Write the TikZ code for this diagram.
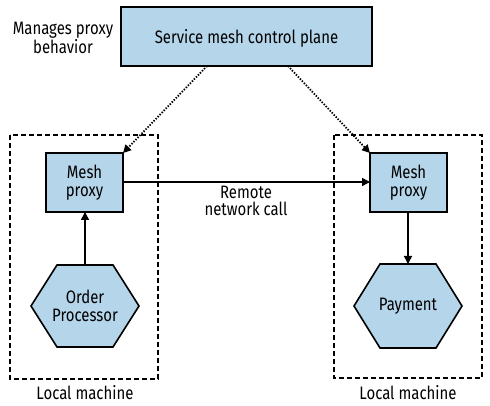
\documentclass[tikz,border=0pt]{standalone}
\usepackage{fontspec}
\setmainfont[FakeStretch=0.83]{Fira Sans}
\usetikzlibrary{arrows.meta}
\definecolor{boxblue}{RGB}{180,213,234}
\tikzset{
  txt/.style={font=\fontsize{18}{18.5}\selectfont, align=center, inner sep=0pt},
  bluebox/.style={draw=black, line width=1.6pt, fill=boxblue},
  machine/.style={draw=black, line width=1.5pt, dash pattern=on 5pt off 3pt},
  solidarrow/.style={line width=1.5pt, -{Triangle[length=8pt,width=8pt]}},
  dotarrow/.style={line width=1.8pt, dash pattern=on 1.4pt off 1.5pt, -{Triangle[length=8pt,width=8pt]}},
}
\begin{document}
\begin{tikzpicture}[x=1pt,y=-1pt]
\useasboundingbox (0,0) rectangle (490,406);
% local machines
\draw[machine] (10,135) rectangle (158,379);
\draw[machine] (334,135) rectangle (482,378);
\node[txt] (lm1) at (85,393) {Local machine};
\node[txt] (lm2) at (408,393) {Local machine};
% control plane
\draw[bluebox] (121,7) rectangle (372,66);
\node[txt] (cp) at (246.5,38) {Service mesh control plane};
\coordinate (cpL) at (207,66);
\coordinate (cpR) at (288,66);
\node[txt] (mng) at (63,38) {Manages proxy\\behavior};
% mesh proxies
\draw[bluebox] (46,153) rectangle (123,212);
\node[txt] (mp1) at (84.5,182.5) {Mesh\\proxy};
\draw[bluebox] (370,153) rectangle (447,212);
\node[txt] (mp2) at (408.5,182.5) {Mesh\\proxy};
\coordinate (mp1TR) at (123,153);
\coordinate (mp1R) at (123,182);
\coordinate (mp1B) at (85,212);
\coordinate (mp2TL) at (370,153);
\coordinate (mp2L) at (370,182);
\coordinate (mp2B) at (408,212);
% hexagons
\draw[bluebox] (31,306) -- (57,265) -- (113,265) -- (139,306) -- (113,347) -- (57,347) -- cycle;
\node[txt] (op) at (85,306) {Order\\Processor};
\coordinate (opT) at (85,265);
\draw[bluebox] (354,306) -- (380,264) -- (436,264) -- (462,306) -- (436,348) -- (380,348) -- cycle;
\node[txt] (pay) at (408,306) {Payment};
\coordinate (payT) at (408,264);
% connectors
\draw[dotarrow] (cpL) -- (mp1TR);
\draw[dotarrow] (cpR) -- (mp2TL);
\draw[solidarrow] (mp1R) -- (mp2L);
\node[txt,font=\fontsize{18}{16.5}\selectfont] (rnc) at (246,201) {Remote\\network call};
\draw[solidarrow] (opT) -- (mp1B);
\draw[solidarrow] (mp2B) -- (payT);
\end{tikzpicture}
\end{document}
